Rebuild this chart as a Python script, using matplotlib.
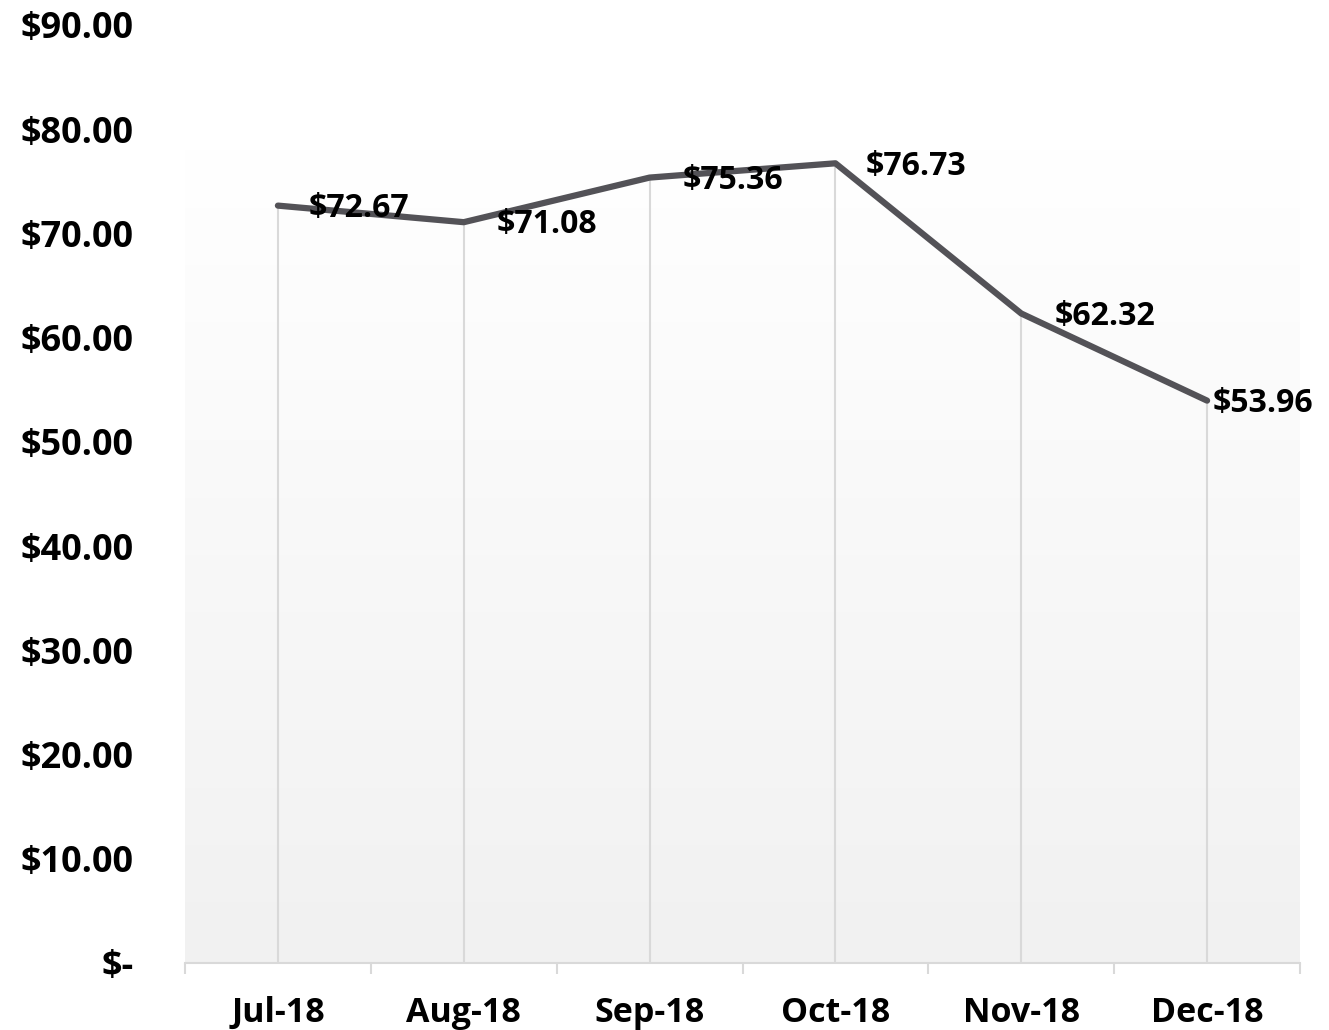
import numpy as np
import matplotlib
matplotlib.use('Agg')
import matplotlib.pyplot as plt
from matplotlib.colors import LinearSegmentedColormap

# data
months = ['Jul-18', 'Aug-18', 'Sep-18', 'Oct-18', 'Nov-18', 'Dec-18']
prices = [72.67, 71.08, 75.36, 76.73, 62.32, 53.96]
y_ticks = [0, 10, 20, 30, 40, 50, 60, 70, 80, 90]
y_labels = ['$-', '$10.00', '$20.00', '$30.00', '$40.00', '$50.00',
            '$60.00', '$70.00', '$80.00', '$90.00']

plt.rcParams['font.family'] = ['Open Sans', 'DejaVu Sans']

fig = plt.figure(figsize=(13.29, 10.30), dpi=100)
ax = fig.add_axes([185 / 1329, 67 / 1030, 1115 / 1329, 938 / 1030])

x = np.arange(len(months))
ax.set_xlim(-0.5, len(months) - 0.5)
ax.set_ylim(0, 90)

# gradient plot area (white top -> light grey bottom)
cmap = LinearSegmentedColormap.from_list('bg', ['#f1f1f1', '#ffffff'])
grad = np.linspace(0, 1, 256).reshape(-1, 1)
ax.imshow(grad, cmap=cmap, aspect='auto', origin='lower',
          extent=(-0.5, len(months) - 0.5, 0, 78.2), zorder=0)

# drop lines
ax.vlines(x, 0, prices, color='#d9d9d9', lw=1.5, zorder=1)

# main line
ax.plot(x, prices, color='#535257', lw=4.5, solid_capstyle='round',
        solid_joinstyle='round', zorder=3)

# data labels
offsets = [22, 24, 24, 22, 24, 4]
for xi, v, off in zip(x, prices, offsets):
    ax.annotate(f'${v:.2f}', (xi, v), xytext=(off, -2), textcoords='offset points',
                ha='left', va='center', fontsize=23, fontweight='bold',
                color='black', zorder=4)

# axes styling
for s in ['top', 'right', 'left']:
    ax.spines[s].set_visible(False)
ax.spines['bottom'].set_color('#d9d9d9')
ax.spines['bottom'].set_linewidth(1.5)

ax.set_yticks(y_ticks)
ax.set_yticklabels(y_labels, fontsize=26, fontweight='bold')
ax.tick_params(axis='y', length=0, pad=37)

ax.set_xticks(x)
ax.set_xticklabels(months, fontsize=24.5, fontweight='bold')
ax.set_xticks(np.arange(-0.5, len(months)), minor=True)
ax.tick_params(axis='x', which='major', length=0, pad=24)
ax.tick_params(axis='x', which='minor', length=8, width=1.5, color='#d9d9d9')

fig.savefig('out.png', dpi=100)
